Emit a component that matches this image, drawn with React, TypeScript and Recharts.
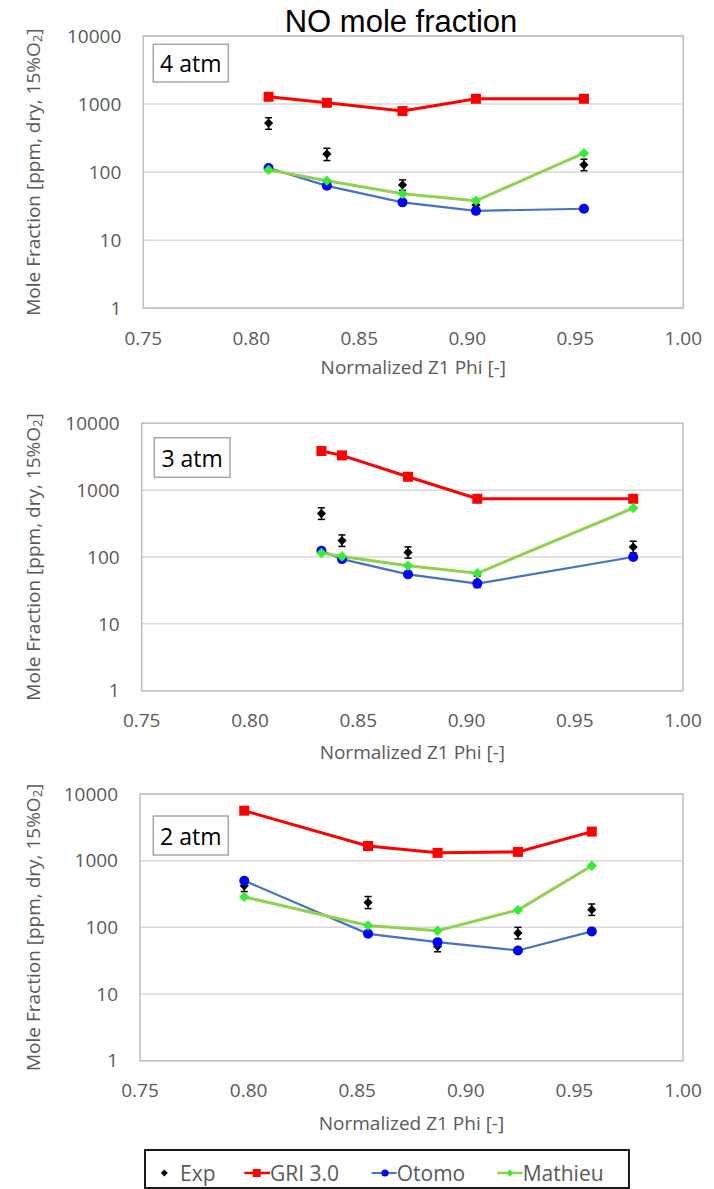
import React from 'react';
import { ComposedChart, Line, XAxis, YAxis, CartesianGrid, ErrorBar, ReferenceArea } from 'recharts';

const xTicks = [0.75, 0.8, 0.85, 0.9, 0.95, 1.0];
const yTicks = [1, 10, 100, 1000, 10000];

// 4 atm panel
const phi4 = [0.808, 0.835, 0.870, 0.904, 0.954];
const exp4 = [526, 185, 65, 33, 128];
const exp4Lo = [100, 37, 11, 6, 23];
const exp4Hi = [104, 39, 12, 7, 27];
const gri4 = [1280, 1045, 790, 1196, 1196];
const otomo4 = [115, 63, 36, 27, 29];
const mathieu4 = [108, 75, 48, 38, 190];

// 3 atm panel
const phi3 = [0.833, 0.8425, 0.873, 0.905, 0.977];
const exp3 = [447, 176, 117, 43, 141];
const exp3Lo = [82, 32, 21, 8, 26];
const exp3Hi = [98, 38, 25, 9, 31];
const gri3 = [3845, 3310, 1585, 743, 743];
const otomo3 = [124, 93, 55, 40, 100];
const mathieu3 = [115, 102, 74, 57, 540];

// 2 atm panel
const phi2 = [0.798, 0.855, 0.887, 0.924, 0.958];
const exp2 = [420, 236, 52, 82, 184];
const exp2Lo = [76, 45, 9, 15, 33];
const exp2Hi = [92, 54, 11, 18, 40];
const gri2 = [5620, 1660, 1310, 1355, 2730];
const otomo2 = [500, 80, 60, 45, 87];
const mathieu2 = [286, 107, 89, 182, 840];

const build = (phi: number[], exp: number[], lo: number[], hi: number[], gri: number[], oto: number[], mat: number[]) =>
  phi.map((x, i) => ({ x, exp: exp[i], err: [lo[i], hi[i]], gri: gri[i], otomo: oto[i], mathieu: mat[i] }));

const data4 = build(phi4, exp4, exp4Lo, exp4Hi, gri4, otomo4, mathieu4);
const data3 = build(phi3, exp3, exp3Lo, exp3Hi, gri3, otomo3, mathieu3);
const data2 = build(phi2, exp2, exp2Lo, exp2Hi, gri2, otomo2, mathieu2);

const FONT = "'Open Sans', sans-serif";
const GREY = '#595959';

const diamondDot = (color: string, r: number) => (props: any) => {
  const { cx, cy, index } = props;
  if (cx == null || cy == null) return <g key={`d${index}`} />;
  return (
    <polygon
      key={`d${index}`}
      points={`${cx},${cy - r} ${cx + r},${cy} ${cx},${cy + r} ${cx - r},${cy}`}
      fill={color}
    />
  );
};
const squareDot = (color: string, s: number) => (props: any) => {
  const { cx, cy, index } = props;
  if (cx == null || cy == null) return <g key={`s${index}`} />;
  return <rect key={`s${index}`} x={cx - s / 2} y={cy - s / 2} width={s} height={s} fill={color} />;
};
const circleDot = (color: string, r: number) => (props: any) => {
  const { cx, cy, index } = props;
  if (cx == null || cy == null) return <g key={`c${index}`} />;
  return <circle key={`c${index}`} cx={cx} cy={cy} r={r} fill={color} />;
};

const W = 714;
const H = 1189;

function Panel({ data, L, R, T, B }: { data: any[]; L: number; R: number; T: number; B: number }) {
  const YW = 60;
  const XH = 40;
  const tickStyle = { fill: GREY, fontSize: 19, fontFamily: FONT };
  return (
    <div style={{ position: 'absolute', left: 0, top: 0 }}>
      <ComposedChart
        width={W}
        height={H}
        data={data}
        margin={{ top: T, right: W - R, bottom: H - B - XH, left: L - YW }}
      >
        <CartesianGrid vertical={false} stroke="#d9d9d9" strokeWidth={1.5} />
        <ReferenceArea x1={0.75} x2={1} y1={1} y2={10000} fill="none" fillOpacity={0} stroke="#bfbfbf" strokeWidth={1.5} ifOverflow="visible" />
        <XAxis
          type="number"
          dataKey="x"
          domain={[0.75, 1]}
          ticks={xTicks}
          interval={0}
          tickFormatter={(v: number) => v.toFixed(2)}
          axisLine={false}
          tickLine={false}
          tickSize={0}
          tickMargin={23}
          height={XH}
          tick={tickStyle}
          allowDataOverflow
        />
        <YAxis
          type="number"
          scale="log"
          domain={[1, 10000]}
          ticks={yTicks}
          interval={0}
          axisLine={false}
          tickLine={false}
          tickSize={0}
          tickMargin={22}
          width={YW}
          tick={tickStyle}
          allowDataOverflow
        />
        <Line
          dataKey="exp"
          stroke="transparent"
          strokeWidth={0}
          dot={diamondDot('#000000', 4.6)}
          activeDot={false}
          isAnimationActive={false}
        >
          <ErrorBar dataKey="err" direction="y" width={3.5} stroke="#000000" strokeWidth={1.5} />
        </Line>
        <Line
          dataKey="gri"
          stroke="#ff0000"
          strokeWidth={3}
          dot={squareDot('#ff0000', 10)}
          activeDot={false}
          isAnimationActive={false}
        />
        <Line
          dataKey="otomo"
          stroke="#4472c4"
          strokeWidth={2.2}
          dot={circleDot('#0000ff', 5)}
          activeDot={false}
          isAnimationActive={false}
        />
        <Line
          dataKey="mathieu"
          stroke="#92d050"
          strokeWidth={3}
          dot={diamondDot('#33ee33', 5.2)}
          activeDot={false}
          isAnimationActive={false}
        />
      </ComposedChart>
    </div>
  );
}

const panels = [
  { data: data4, L: 143.3, R: 683.3, T: 36, B: 308.3, label: '4 atm', box: [153.3, 44.3, 75, 37.7], xLabelY: 366.7 },
  { data: data3, L: 141.7, R: 683, T: 423.3, B: 690.7, label: '3 atm', box: [154.3, 437.7, 75.7, 39.6], xLabelY: 752 },
  { data: data2, L: 140, R: 683, T: 794, B: 1060.7, label: '2 atm', box: [153.3, 816, 75, 39], xLabelY: 1123.3 },
];

function Overlay() {
  return (
    <svg width={W} height={H} style={{ position: 'absolute', left: 0, top: 0, pointerEvents: 'none' }}>
      <text x={401} y={31.7} textAnchor="middle" fontFamily="'Liberation Sans', Arial, sans-serif" fontSize={31} fill="#000">
        NO mole fraction
      </text>
      {panels.map((p, i) => {
        const [bx, by, bw, bh] = p.box;
        const cy = (p.T + p.B) / 2;
        return (
          <g key={i}>
            <rect x={bx} y={by} width={bw} height={bh} fill="#fff" stroke="#a6a6a6" strokeWidth={1.5} />
            <text x={bx + bw / 2} y={by + bh / 2} textAnchor="middle" dominantBaseline="central" fontFamily={FONT} fontSize={23} fill="#000">
              {p.label}
            </text>
            <text x={(p.L + p.R) / 2} y={p.xLabelY} textAnchor="middle" dominantBaseline="central" fontFamily={FONT} fontSize={19} fill={GREY}>
              Normalized Z1 Phi [-]
            </text>
            <text
              transform={`translate(33,${cy}) rotate(-90)`}
              textAnchor="middle"
              dominantBaseline="central"
              fontFamily={FONT}
              fontSize={19}
              fill={GREY}
            >
              Mole Fraction [ppm, dry, 15%O
              <tspan fontSize={13} dy={4}>2</tspan>
              <tspan dy={-4}>]</tspan>
            </text>
          </g>
        );
      })}
      {/* legend */}
      <rect x={145} y={1150} width={484} height={38} fill="#fff" stroke="#000" strokeWidth={1.8} />
      <g fontFamily={FONT} fontSize={21} fill={GREY}>
        <polygon points="164.3,1169.5 167.8,1173 164.3,1176.5 160.8,1173" fill="#000" />
        <text x={180} y={1173} dominantBaseline="central">Exp</text>
        <line x1={244.3} y1={1173} x2={270} y2={1173} stroke="#ff0000" strokeWidth={2.5} />
        <rect x={252.7} y={1169} width={8} height={8} fill="#ff0000" />
        <text x={270} y={1173} dominantBaseline="central">GRI 3.0</text>
        <line x1={371.7} y1={1173} x2={396.7} y2={1173} stroke="#4472c4" strokeWidth={2} />
        <circle cx={385} cy={1173} r={3.6} fill="#0000ff" />
        <text x={396.7} y={1173} dominantBaseline="central">Otomo</text>
        <line x1={497.3} y1={1173} x2={522.7} y2={1173} stroke="#92d050" strokeWidth={2.5} />
        <polygon points="510,1169.5 513.5,1173 510,1176.5 506.5,1173" fill="#33ee33" />
        <text x={522.7} y={1173} dominantBaseline="central">Mathieu</text>
      </g>
    </svg>
  );
}

export default function App() {
  return (
    <div style={{ position: 'absolute', left: 0, top: 0, width: W, height: H, background: '#fff' }}>
      {panels.map((p, i) => (
        <Panel key={i} data={p.data} L={p.L} R={p.R} T={p.T} B={p.B} />
      ))}
      <Overlay />
    </div>
  );
}
